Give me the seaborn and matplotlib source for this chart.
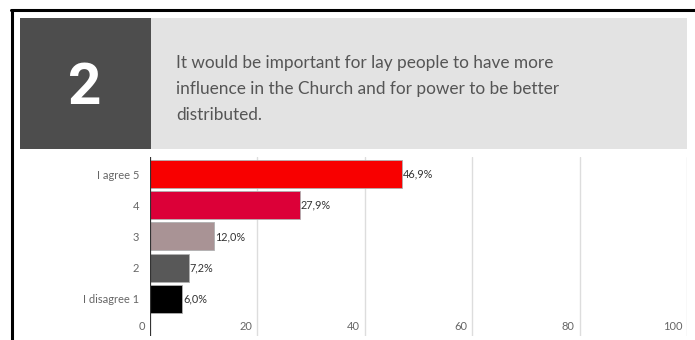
import matplotlib
matplotlib.use("Agg")
import matplotlib.pyplot as plt
from matplotlib.patches import Rectangle
from matplotlib.lines import Line2D
import seaborn as sns
import pandas as pd

# Survey answers, top to bottom
categories = ["I agree 5", "4", "3", "2", "I disagree 1"]
shares = [46.9, 27.9, 12.0, 7.2, 6.0]
value_labels = ["46,9%", "27,9%", "12,0%", "7,2%", "6,0%"]
bar_colors = ["#F80000", "#DC0038", "#A99395", "#585858", "#000000"]
x_ticks = [0, 20, 40, 60, 80, 100]
question_number = "2"
question_text = ("It would be important for lay people to have more\n"
                 "influence in the Church and for power to be better\n"
                 "distributed.")

sns.set_theme(style="white")
plt.rcParams["font.family"] = ["Lato", "DejaVu Sans"]

W, H = 695, 340
fig = plt.figure(figsize=(W / 100, H / 100), dpi=100)
fig.patch.set_facecolor("white")

def fx(px):
    return px / W

def fy(py):
    return 1 - py / H

# Frame lines along the top and left edge
fig.add_artist(Line2D([fx(11), fx(695)], [fy(10), fy(10)], color="black", lw=2.2,
                      transform=fig.transFigure))
fig.add_artist(Line2D([fx(11.5), fx(11.5)], [fy(10), fy(340)], color="black", lw=2.2,
                      transform=fig.transFigure))

# Header: number block and question panel
fig.add_artist(Rectangle((fx(20), fy(149)), fx(131), 131 / H, facecolor="#4D4D4D",
                         edgecolor="none", transform=fig.transFigure))
fig.add_artist(Rectangle((fx(151), fy(149)), fx(536), 131 / H, facecolor="#E3E3E3",
                         edgecolor="none", transform=fig.transFigure))
fig.text(fx(85), fy(89), question_number, color="white", fontsize=42, fontweight="bold",
         ha="center", va="center", family=["Roboto", "DejaVu Sans"])
fig.text(fx(176), fy(89), question_text, color="#555555", fontsize=12.4, ha="left",
         va="center", linespacing=1.8)

# Bar chart
ax = fig.add_axes([fx(150), fy(336), fx(687 - 150), (336 - 157) / H])
df = pd.DataFrame({"category": categories, "share": shares})
sns.barplot(data=df, x="share", y="category", hue="category", palette=bar_colors,
            saturation=1, legend=False, width=0.9, orient="h", ax=ax,
            edgecolor="#b0b0b0", linewidth=0.6)
ax.set_xlim(0, 100)
ax.set_ylim(5.19, -0.545)
for sp in ax.spines.values():
    sp.set_visible(False)
ax.set_xticks([])
ax.set_xlabel("")
ax.set_ylabel("")
ax.tick_params(axis="y", length=0, pad=8, labelsize=8, labelcolor="#666666")
for t in x_ticks[1:]:
    ax.axvline(t, color="#DDDDDD", lw=1, zorder=0)
ax.axvline(0, color="#333333", lw=1.6, zorder=3)
for t in x_ticks:
    ax.text(t - 0.9, 4.9, str(t), ha="right", va="center", fontsize=8, color="#666666")
for i, (v, lab) in enumerate(zip(shares, value_labels)):
    ax.text(v + 0.2, i, lab, ha="left", va="center", fontsize=7.8, color="#333333")

fig.savefig("out.png", dpi=100, facecolor="white")
